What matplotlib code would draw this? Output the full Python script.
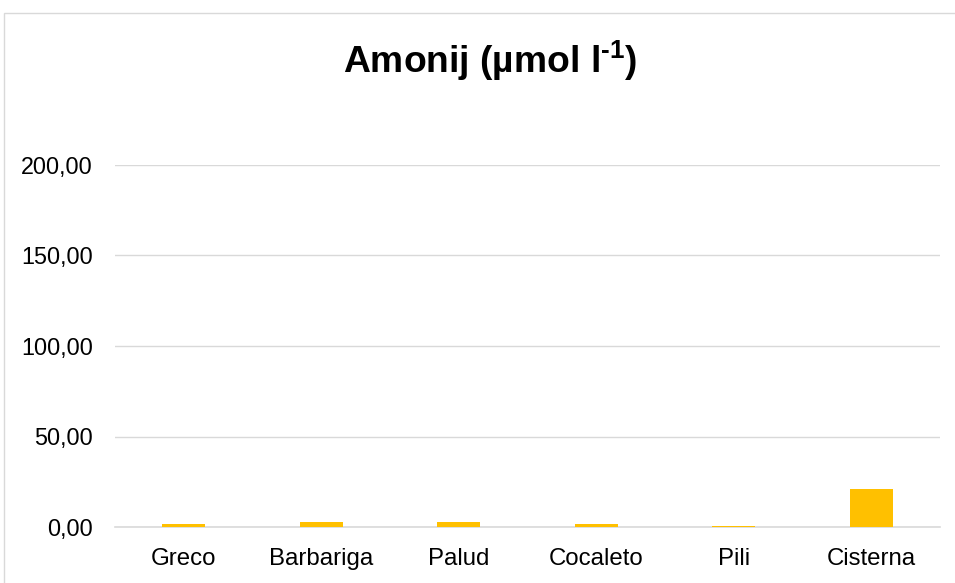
import matplotlib
matplotlib.use("Agg")
import matplotlib.pyplot as plt
from matplotlib.patches import Rectangle
from matplotlib.ticker import FuncFormatter

plt.rcParams['font.family'] = ['Liberation Sans', 'DejaVu Sans']
plt.rcParams['mathtext.fontset'] = 'custom'
plt.rcParams['mathtext.rm'] = 'Liberation Sans:bold'

# values
sites = ['Greco', 'Barbariga', 'Palud', 'Cocaleto', 'Pili', 'Cisterna']
amonij = [1.8, 2.9, 2.6, 1.6, 0.4, 21.2]
yticks = [0, 50, 100, 150, 200]

fig = plt.figure(figsize=(9.55, 5.83), dpi=100)
W, H = 955, 583
ax = fig.add_axes([115 / W, 56 / H, 825 / W, 362 / H])

# chart border (runs off the right and bottom edges)
fig.patches.append(Rectangle((4 / W, -0.1), 1.2, 1 - 13 / H + 0.1,
                             transform=fig.transFigure, fill=False,
                             edgecolor='#d9d9d9', linewidth=1.0))

x = range(len(sites))
ax.bar(x, amonij, width=0.31, color='#FFC000', zorder=3)

ax.set_xlim(-0.5, len(sites) - 0.5)
ax.set_ylim(0, 200)
ax.set_yticks(yticks)
ax.yaxis.set_major_formatter(FuncFormatter(lambda v, p: f'{v:.2f}'.replace('.', ',')))
ax.set_xticks(list(x))
ax.set_xticklabels(sites)

ax.grid(axis='y', color='#d9d9d9', linewidth=1.0, zorder=0)
for s in ['top', 'right', 'left']:
    ax.spines[s].set_visible(False)
ax.spines['bottom'].set_color('#d9d9d9')
ax.spines['bottom'].set_linewidth(1.2)
ax.tick_params(axis='y', length=0, labelsize=16.8, colors='#000000', pad=16)
ax.tick_params(axis='x', length=0, labelsize=17.3, colors='#000000', pad=15)

fig.text(490 / W, 1 - 61 / H, r'Amonij (µmol l$^{\text{-1}}$)', ha='center', va='center',
         fontsize=26.8, fontweight='bold')

fig.savefig('out.png', dpi=100)
